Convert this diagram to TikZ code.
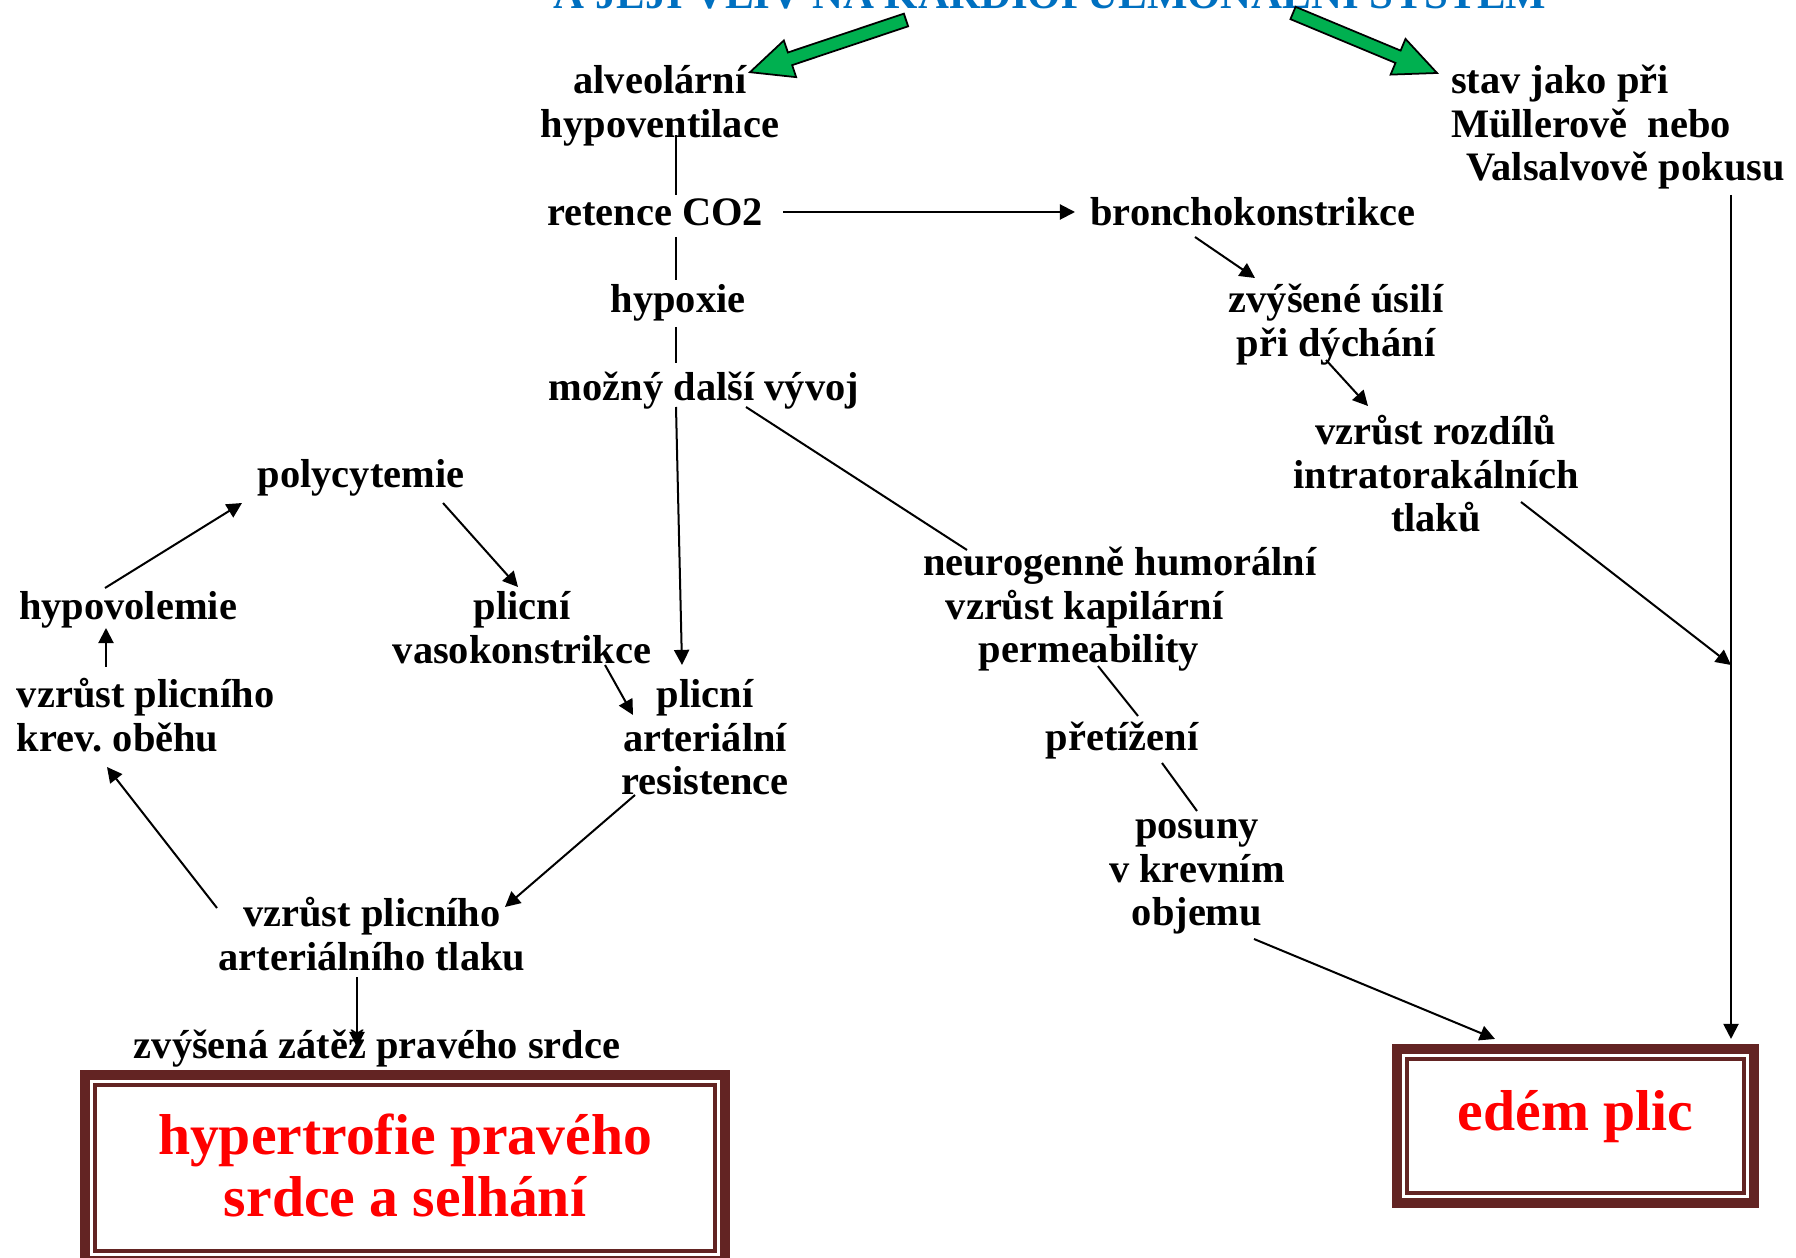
\documentclass[tikz,border=0pt]{standalone}
\usepackage{fontspec}
\setmainfont{Liberation Serif}
\usetikzlibrary{arrows.meta,calc}
\frenchspacing
\definecolor{brn}{RGB}{99,36,35}
\definecolor{agreen}{RGB}{0,176,80}
\definecolor{tblue}{RGB}{0,112,192}
\tikzset{
  txt/.style={inner sep=0pt, outer sep=0pt, anchor=base, align=center,
    font=\bfseries\fontsize{11.5pt}{12.3pt}\selectfont},
  txtl/.style={txt, anchor=base west, align=left},
  conn/.style={line width=0.57pt, black},
  arr/.style={conn, -{Triangle[length=4.3pt,width=4.3pt]}},
  bigbox/.style={draw=brn, line width=0.1cm, inner sep=0pt, outer sep=0pt, fill=white,
    text=red, align=center, font=\bfseries\fontsize{16.4pt}{17.6pt}\selectfont},
  innerframe/.style={draw=brn, line width=0.04cm},
}
\newcommand\blockarrow[2]{%
  \coordinate (ba-h) at ($(#2)!12pt!(#1)$);
  \draw[fill=agreen, draw=black, line width=0.5pt, line join=miter]
    ($(#1)!1.9pt!90:(#2)$) -- ($(ba-h)!1.9pt!90:(#2)$) -- ($(ba-h)!5.5pt!90:(#2)$) -- (#2)
    -- ($(ba-h)!5.5pt!-90:(#2)$) -- ($(ba-h)!1.9pt!-90:(#2)$) -- ($(#1)!1.9pt!-90:(#2)$) -- cycle;
}
\begin{document}
\begin{tikzpicture}[x=0.01cm,y=-0.01cm]
\useasboundingbox (0,0) rectangle (1796,1258);
\fill[white] (0,0) rectangle (1796,1258);

% title (cut off at the top)
\node[txt, text=tblue, font=\bfseries\fontsize{12.2pt}{13pt}\selectfont] (title) at (1050,9) {A JEJÍ VLIV NA KARDIOPULMONÁLNÍ SYSTÉM};

% text nodes (anchor = baseline of the last line)
\node[txt] (alv) at (660,137.2) {alveolární\\hypoventilace};
\node[txtl] (stav) at (1451,180.5) {stav jako při\\Müllerově\ \ nebo\\\hspace*{4.3pt}Valsalvově pokusu};
\node[txt] (ret) at (655,226) {retence CO2};
\node[txt] (bron) at (1253,226) {bronchokonstrikce};
\node[txt] (hyp) at (678,313) {hypoxie};
\node[txt] (zvy) at (1336,356.2) {zvýšené úsilí\\při dýchání};
\node[txt] (moz) at (704,401) {možný další vývoj};
\node[txt] (roz) at (1436,531.5) {vzrůst rozdílů\\intratorakálních\\tlaků};
\node[txt] (poly) at (361,488) {polycytemie};
\node[txt] (hypov) at (128,620) {hypovolemie};
\node[txt] (vaso) at (522,663.2) {plicní\\vasokonstrikce};
\node[txtl] (neuro) at (923,662.5) {neurogenně humorální\\\hspace*{6.5pt}vzrůst kapilární\\\hspace*{15.9pt}permeability};
\node[txtl] (krev) at (17,751.2) {vzrůst plicního\\krev. oběhu};
\node[txt] (res) at (705,794.5) {plicní\\arteriální\\resistence};
\node[txt] (pret) at (1122,751) {přetížení};
\node[txt] (pos) at (1197,925.5) {posuny\\v krevním\\objemu};
\node[txt] (art) at (372,970.2) {vzrůst plicního\\arteriálního tlaku};
\node[txt] (zat) at (377,1058) {zvýšená zátěž pravého srdce};

% result boxes
\node[bigbox, minimum width=6.4cm, minimum height=1.86cm, text height=31.15pt, text depth=3.85pt] (hyper) at (405,1168) {hypertrofie pravého\\srdce a selhání};
\draw[innerframe] ([shift={(10,10)}]hyper.north west) rectangle ([shift={(-10,-10)}]hyper.south east);
\node[bigbox, minimum width=3.57cm, minimum height=1.54cm, text height=13.15pt, text depth=10.85pt] (edem) at (1575.5,1126) {edém plic};
\draw[innerframe] ([shift={(10,10)}]edem.north west) rectangle ([shift={(-10,-10)}]edem.south east);

% green block arrows
\coordinate (gL0) at ([shift={(-144,11)}]title.base);
\coordinate (gL1) at ([shift={(90,-65)}]alv.base);
\coordinate (gR0) at ([shift={(243,4)}]title.base);
\coordinate (gR1) at ([shift={(-14,-107.5)}]stav.base west);
\blockarrow{gL0}{gL1}
\blockarrow{gR0}{gR1}

% connectors
\draw[conn] ([shift={(16,-2)}]alv.base) -- ([shift={(21,-31)}]ret.base);
\draw[conn] ([shift={(21,11)}]ret.base) -- ([shift={(-2,-33)}]hyp.base);
\draw[conn] ([shift={(-2,14)}]hyp.base) -- ([shift={(-28,-38)}]moz.base);
\draw[arr] ([shift={(128,-14)}]ret.base) -- ([shift={(-178,-14)}]bron.base);
\draw[arr] ([shift={(-28,6)}]moz.base) -- ([shift={(-23,-129.5)}]res.base);
\draw[conn] ([shift={(42,6)}]moz.base) -- ([shift={(44,-112.5)}]neuro.base west);
\draw[arr] ([shift={(-58,11)}]bron.base) -- ([shift={(-81,-78.2)}]zvy.base);
\draw[arr] ([shift={(-10,3.8)}]zvy.base) -- ([shift={(-68,-125.5)}]roz.base);
\coordinate (join) at (1731,665);
\draw[arr] ([shift={(85,-29.5)}]roz.base) -- (join);
\draw[arr] ([shift={(280,14.5)}]stav.base west) -- ([shift={(155.5,-10)}]edem.north);
\draw[arr] ([shift={(82,15)}]poly.base) -- ([shift={(-4,-76.2)}]vaso.base);
\draw[arr] ([shift={(-23,-32)}]hypov.base) -- ([shift={(-119,15)}]poly.base);
\draw[arr] ([shift={(89,-84.2)}]krev.base west) -- ([shift={(-22,8)}]hypov.base);
\draw[arr] ([shift={(83,1.8)}]vaso.base) -- ([shift={(-72,-79.5)}]res.base);
\draw[arr] ([shift={(-70,0.5)}]res.base) -- ([shift={(133,-63.2)}]art.base);
\draw[arr] ([shift={(-155,-62.2)}]art.base) -- ([shift={(90,15.8)}]krev.base west);
\draw[arr] ([shift={(-15,6.8)}]art.base) -- ([shift={(-20,-11)}]zat.base);
\draw[conn] ([shift={(175,3.5)}]neuro.base west) -- ([shift={(16,-35)}]pret.base);
\draw[conn] ([shift={(40,12)}]pret.base) -- ([shift={(0,-114.5)}]pos.base);
\draw[arr] ([shift={(57,13.5)}]pos.base) -- ([shift={(-80.5,-10)}]edem.north);
\end{tikzpicture}
\end{document}
